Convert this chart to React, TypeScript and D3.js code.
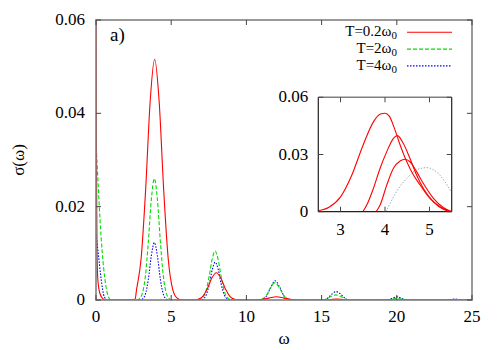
import React from "react";
import * as d3 from "d3";

// ---------- Data ----------
const xTicks = [0, 5, 10, 15, 20, 25];
const yTicks = [0, 0.02, 0.04, 0.06];
const yTickLabels = ["0", "0.02", "0.04", "0.06"];
const insetXTicks = [3, 4, 5];
const insetYTicks = [0, 0.03, 0.06];
const insetYTickLabels = ["0", "0.03", "0.06"];

const legendLabels = ["T=0.2ω", "T=2ω", "T=4ω"];

// main series: [omega, sigma]
const redSeries: [number, number][] = [
  [0, 0.08], [0.03, 0.03], [0.07, 0.01], [0.12, 0.0045], [0.25, 0.0015], [0.45, 0.0003], [0.65, 0],
  [2.4, 0], [2.6, 0.0002], [2.7, 0.0023], [3.0, 0.0089], [3.3, 0.0236], [3.6, 0.0425], [3.9, 0.0516],
  [4.2, 0.0425], [4.5, 0.0236], [4.8, 0.0089], [5.1, 0.0023], [5.4, 0.0004], [5.7, 0],
  [6.6, 0], [6.8, 0.00017], [7.1, 0.0008], [7.4, 0.0024], [7.7, 0.0047], [8.0, 0.00585],
  [8.3, 0.0047], [8.6, 0.0024], [8.9, 0.0008], [9.2, 0.00017], [9.4, 0],
  [10.6, 0], [11.0, 0.0001], [11.5, 0.0004], [12.0, 0.0007], [12.5, 0.0004], [13.0, 0.0001], [13.3, 0],
  [15.2, 0], [15.6, 0.0001], [16.0, 0.0002], [16.4, 0.0001], [16.8, 0],
  [25, 0],
];

const greenSeries: [number, number][] = [
  [0, 0.034], [0.15, 0.0243], [0.27, 0.0171], [0.42, 0.01], [0.6, 0.0043], [0.82, 0.0007], [1.0, 0],
  [2.8, 0], [2.88, 0.00026], [3.08, 0.0014], [3.28, 0.005], [3.48, 0.0125], [3.68, 0.0216], [3.88, 0.026],
  [4.08, 0.0216], [4.28, 0.0125], [4.48, 0.005], [4.68, 0.0014], [4.88, 0.00026], [5.0, 0],
  [6.8, 0], [6.92, 0.0001], [7.12, 0.00056], [7.32, 0.002], [7.52, 0.005], [7.72, 0.0087], [7.92, 0.0105],
  [8.12, 0.0087], [8.32, 0.005], [8.52, 0.002], [8.72, 0.00056], [8.92, 0.0001], [9.0, 0],
  [10.9, 0], [11.0, 0.00014], [11.3, 0.00085], [11.6, 0.0026], [11.9, 0.0037], [12.2, 0.0026], [12.5, 0.00085], [12.8, 0.00014], [12.9, 0],
  [15.1, 0], [15.35, 0.0003], [15.65, 0.0008], [15.95, 0.0011], [16.25, 0.0008], [16.55, 0.0003], [16.8, 0],
  [19.3, 0], [19.65, 0.0002], [20.0, 0.0004], [20.35, 0.0002], [20.7, 0],
  [23.4, 0], [23.9, 0.0001], [24.4, 0],
  [25, 0],
];

const blueSeries: [number, number][] = [
  [0, 0.014], [0.15, 0.01], [0.35, 0.0043], [0.55, 0.0007], [0.75, 0],
  [2.95, 0], [3.08, 0.0002], [3.28, 0.0012], [3.48, 0.0044], [3.68, 0.0095], [3.88, 0.0123],
  [4.08, 0.0095], [4.28, 0.0044], [4.48, 0.0012], [4.68, 0.0002], [4.8, 0],
  [7.0, 0], [7.13, 0.0002], [7.33, 0.0011], [7.53, 0.0033], [7.73, 0.0065], [7.93, 0.0081],
  [8.13, 0.0065], [8.33, 0.0033], [8.53, 0.0011], [8.73, 0.0002], [8.85, 0],
  [10.95, 0], [11.02, 0.0001], [11.32, 0.00079], [11.62, 0.0027], [11.92, 0.0041], [12.22, 0.0027], [12.52, 0.00079], [12.82, 0.0001], [12.9, 0],
  [15.15, 0], [15.4, 0.0004], [15.7, 0.0013], [15.97, 0.0018], [16.25, 0.0013], [16.55, 0.0004], [16.8, 0],
  [19.3, 0], [19.65, 0.0003], [20.0, 0.0007], [20.35, 0.0003], [20.7, 0],
  [23.4, 0], [23.9, 0.0002], [24.4, 0],
  [25, 0],
];

// inset series
const insetRed1: [number, number][] = [
  [2.5, 0.0005], [2.75, 0.0025], [3.0, 0.0078], [3.25, 0.019], [3.5, 0.0345], [3.75, 0.0475], [3.9, 0.0512], [4.0, 0.0516],
  [4.1, 0.050], [4.2, 0.0445], [4.34, 0.035], [4.49, 0.0262], [4.64, 0.0192], [4.79, 0.014], [5.01, 0.007], [5.24, 0.0026], [5.5, 0],
];
const insetRed2: [number, number][] = [
  [3.5, 0], [3.59, 0.0035], [3.74, 0.0123], [3.89, 0.0228], [4.04, 0.0315], [4.19, 0.0385], [4.28, 0.0399],
  [4.41, 0.0359], [4.56, 0.028], [4.71, 0.0192], [4.86, 0.0123], [5.09, 0.0052], [5.31, 0.0013], [5.5, 0],
];
const insetRed3: [number, number][] = [
  [3.8, 0], [3.89, 0.0035], [4.04, 0.014], [4.19, 0.0228], [4.34, 0.0266], [4.45, 0.0275],
  [4.56, 0.0262], [4.71, 0.021], [4.86, 0.0149], [5.09, 0.007], [5.31, 0.0022], [5.5, 0],
];
const insetGray: [number, number][] = [
  [4.02, 0], [4.13, 0.005], [4.3, 0.012], [4.49, 0.0175], [4.71, 0.022], [4.94, 0.0231], [5.2, 0.02], [5.5, 0.01],
];

// ---------- Layout ----------
const W = 500, H = 350;
const M = { left: 96, right: 472, top: 20, bottom: 300 };
const I = { left: 318.3, right: 451.7, top: 97.3, bottom: 211.7 };

const FONT = "'Liberation Serif', 'Times New Roman', serif";
const ts = { fontFamily: FONT };
const FS = 17;

export default function App() {
  const x = d3.scaleLinear().domain([0, 25]).range([M.left, M.right]);
  const y = d3.scaleLinear().domain([0, 0.06]).range([M.bottom, M.top]);
  const ix = d3.scaleLinear().domain([2.5, 5.5]).range([I.left, I.right]);
  const iy = d3.scaleLinear().domain([0, 0.06]).range([I.bottom, I.top]);

  const line = d3.line<[number, number]>().x((d) => x(d[0])).y((d) => y(d[1])).curve(d3.curveMonotoneX);
  const iline = d3.line<[number, number]>().x((d) => ix(d[0])).y((d) => iy(d[1])).curve(d3.curveMonotoneX);

  const legendRows = [
    { label: legendLabels[0], color: "#ff0000", dash: "none" },
    { label: legendLabels[1], color: "#00dd00", dash: "4,2" },
    { label: legendLabels[2], color: "#0000ff", dash: "1.5,1.5" },
  ];

  return (
    <div style={{ position: "absolute", left: 0, top: 0 }}>
      <svg width={W} height={H} style={{ display: "block", background: "#fff", fontFamily: FONT }}>
        <defs>
          <clipPath id="mainClip">
            <rect x={M.left} y={M.top} width={M.right - M.left} height={M.bottom - M.top} />
          </clipPath>
          <clipPath id="insetClip">
            <rect x={I.left} y={I.top} width={I.right - I.left} height={I.bottom - I.top} />
          </clipPath>
        </defs>

        {/* main curves */}
        <g clipPath="url(#mainClip)" fill="none">
          <path d={line(blueSeries) || ""} stroke="#0000ff" strokeWidth={1.1} strokeDasharray="1.5,1.5" />
          <path d={line(greenSeries) || ""} stroke="#00dd00" strokeWidth={1.1} strokeDasharray="4,2" />
          <path d={line(redSeries) || ""} stroke="#ff0000" strokeWidth={1.1} />
        </g>

        {/* main frame */}
        <rect x={M.left} y={M.top} width={M.right - M.left} height={M.bottom - M.top} fill="none" stroke="#808080" strokeWidth={1.6} />
        {xTicks.map((t) => (
          <g key={"xt" + t}>
            <line x1={x(t)} x2={x(t)} y1={M.bottom} y2={M.bottom - 5} stroke="#444" />
            <line x1={x(t)} x2={x(t)} y1={M.top} y2={M.top + 5} stroke="#444" />
            <text style={ts} x={x(t)} y={M.bottom + 22} textAnchor="middle" fontSize={FS}>{t}</text>
          </g>
        ))}
        {yTicks.map((t, i) => (
          <g key={"yt" + t}>
            <line x1={M.left} x2={M.left + 5} y1={y(t)} y2={y(t)} stroke="#444" />
            <line x1={M.right} x2={M.right - 5} y1={y(t)} y2={y(t)} stroke="#444" />
            <text style={ts} x={M.left - 11} y={y(t) + 5} textAnchor="end" fontSize={FS}>{yTickLabels[i]}</text>
          </g>
        ))}

        {/* axis titles */}
        <text style={ts} x={284} y={344} textAnchor="middle" fontSize={FS}>ω</text>
        <text style={ts} transform={`translate(24,${160}) rotate(-90)`} textAnchor="middle" fontSize={FS}>σ(ω)</text>
        <text style={ts} x={110} y={41} fontSize={19}>a)</text>

        {/* legend */}
        {legendRows.map((r, i) => {
          const yy = 32.3 + i * 16.8;
          return (
            <g key={"lg" + i}>
              <text style={ts} x={397} y={yy + 4} textAnchor="end" fontSize={15}>
                {r.label}
                <tspan fontSize={11} dy={3}>0</tspan>
              </text>
              <line x1={407} x2={452} y1={yy} y2={yy} stroke={r.color} strokeWidth={1.1} strokeDasharray={r.dash} />
            </g>
          );
        })}

        {/* inset */}
        <rect x={I.left} y={I.top} width={I.right - I.left} height={I.bottom - I.top} fill="#fff" />
        <g clipPath="url(#insetClip)" fill="none">
          <path d={iline(insetGray) || ""} stroke="#aaaaaa" strokeWidth={1} strokeDasharray="1.5,1.5" />
          <path d={iline(insetRed1) || ""} stroke="#ff0000" strokeWidth={1.1} />
          <path d={iline(insetRed2) || ""} stroke="#ff0000" strokeWidth={1.1} />
          <path d={iline(insetRed3) || ""} stroke="#ff0000" strokeWidth={1.1} />
        </g>
        <line x1={I.left} x2={I.right} y1={I.top} y2={I.top} stroke="#808080" strokeWidth={1.5} />
        <line x1={I.left} x2={I.left} y1={I.top} y2={I.bottom} stroke="#222" strokeWidth={1.2} />
        <line x1={I.right} x2={I.right} y1={I.top} y2={I.bottom} stroke="#222" strokeWidth={1.2} />
        <line x1={I.left} x2={I.right} y1={I.bottom} y2={I.bottom} stroke="#222" strokeWidth={1.2} />
        {insetXTicks.map((t) => (
          <g key={"ixt" + t}>
            <line x1={ix(t)} x2={ix(t)} y1={I.bottom} y2={I.bottom - 5} stroke="#444" />
            <line x1={ix(t)} x2={ix(t)} y1={I.top} y2={I.top + 5} stroke="#444" />
            <text style={ts} x={ix(t)} y={I.bottom + 23} textAnchor="middle" fontSize={FS}>{t}</text>
          </g>
        ))}
        {insetYTicks.map((t, i) => (
          <g key={"iyt" + t}>
            <line x1={I.left} x2={I.left + 5} y1={iy(t)} y2={iy(t)} stroke="#444" />
            <line x1={I.right} x2={I.right - 5} y1={iy(t)} y2={iy(t)} stroke="#444" />
            <text style={ts} x={I.left - 10} y={iy(t) + 5} textAnchor="end" fontSize={FS}>{insetYTickLabels[i]}</text>
          </g>
        ))}
      </svg>
    </div>
  );
}
